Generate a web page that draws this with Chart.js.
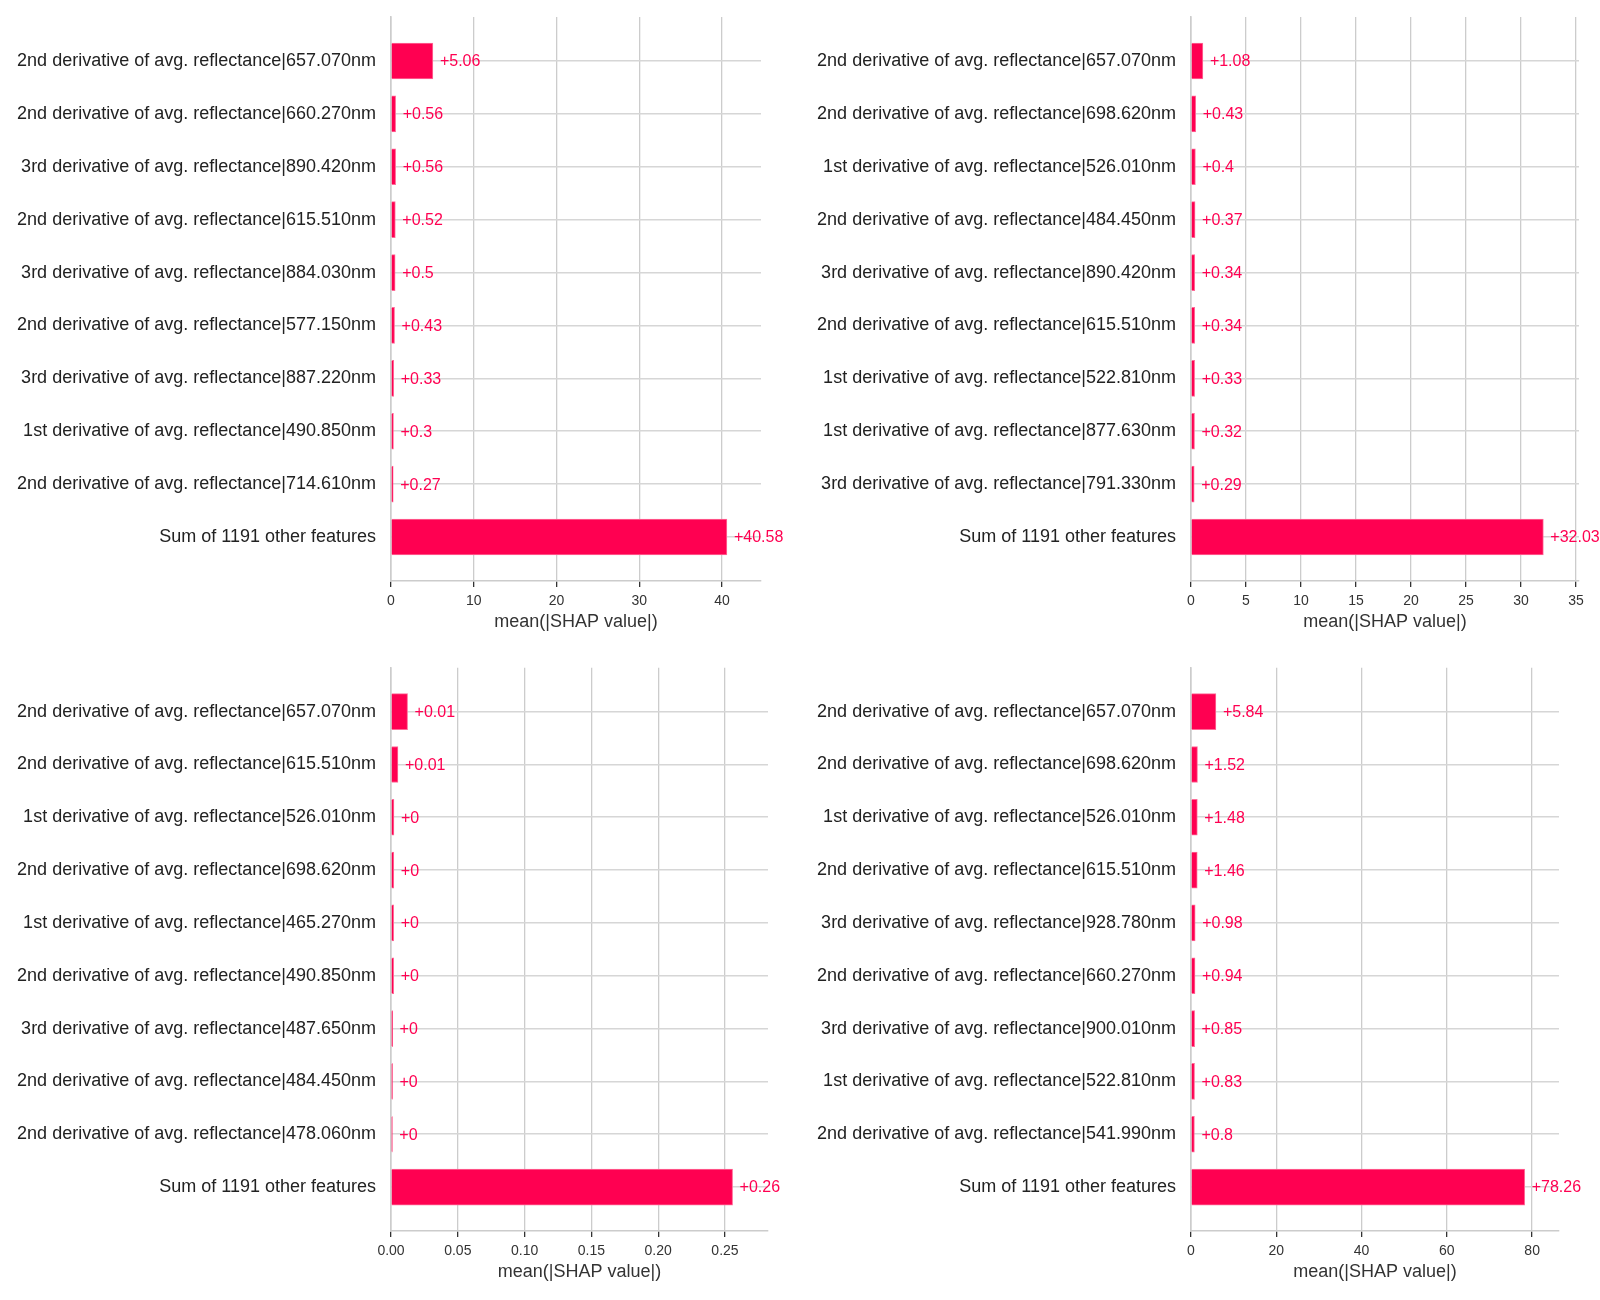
<!DOCTYPE html>
<html lang="en">
<head>
<meta charset="UTF-8">
<title>mean(|SHAP value|) bar charts</title>
<script src="https://cdn.jsdelivr.net/npm/chart.js"></script>
<style>
  body { margin: 0; background: #ffffff; }
  .panel { position: absolute; }
</style>
</head>
<body>
<div class="panel" style="left:0;top:0"><canvas id="shapA" width="800" height="650"></canvas></div>
<div class="panel" style="left:800px;top:0"><canvas id="shapB" width="800" height="650"></canvas></div>
<div class="panel" style="left:0;top:650px"><canvas id="shapC" width="800" height="650"></canvas></div>
<div class="panel" style="left:800px;top:650px"><canvas id="shapD" width="800" height="650"></canvas></div>

<script>
// top-left
const labelsA = [
  '2nd derivative of avg. reflectance|657.070nm',
  '2nd derivative of avg. reflectance|660.270nm',
  '3rd derivative of avg. reflectance|890.420nm',
  '2nd derivative of avg. reflectance|615.510nm',
  '3rd derivative of avg. reflectance|884.030nm',
  '2nd derivative of avg. reflectance|577.150nm',
  '3rd derivative of avg. reflectance|887.220nm',
  '1st derivative of avg. reflectance|490.850nm',
  '2nd derivative of avg. reflectance|714.610nm',
  'Sum of 1191 other features'
];
const valuesA = [5.06, 0.56, 0.56, 0.52, 0.5, 0.43, 0.33, 0.3, 0.27, 40.58];
const xTicksA = [0, 10, 20, 30, 40];
const xTickLabelsA = ['0', '10', '20', '30', '40'];

// top-right
const labelsB = [
  '2nd derivative of avg. reflectance|657.070nm',
  '2nd derivative of avg. reflectance|698.620nm',
  '1st derivative of avg. reflectance|526.010nm',
  '2nd derivative of avg. reflectance|484.450nm',
  '3rd derivative of avg. reflectance|890.420nm',
  '2nd derivative of avg. reflectance|615.510nm',
  '1st derivative of avg. reflectance|522.810nm',
  '1st derivative of avg. reflectance|877.630nm',
  '3rd derivative of avg. reflectance|791.330nm',
  'Sum of 1191 other features'
];
const valuesB = [1.08, 0.43, 0.4, 0.37, 0.34, 0.34, 0.33, 0.32, 0.29, 32.03];
const xTicksB = [0, 5, 10, 15, 20, 25, 30, 35];
const xTickLabelsB = ['0', '5', '10', '15', '20', '25', '30', '35'];

// bottom-left
const labelsC = [
  '2nd derivative of avg. reflectance|657.070nm',
  '2nd derivative of avg. reflectance|615.510nm',
  '1st derivative of avg. reflectance|526.010nm',
  '2nd derivative of avg. reflectance|698.620nm',
  '1st derivative of avg. reflectance|465.270nm',
  '2nd derivative of avg. reflectance|490.850nm',
  '3rd derivative of avg. reflectance|487.650nm',
  '2nd derivative of avg. reflectance|484.450nm',
  '2nd derivative of avg. reflectance|478.060nm',
  'Sum of 1191 other features'
];
const valuesC = [0.0124, 0.0052, 0.0022, 0.0021, 0.002, 0.002, 0.0012, 0.0011, 0.001, 0.2557];
const xTicksC = [0, 0.05, 0.1, 0.15, 0.2, 0.25];
const xTickLabelsC = ['0.00', '0.05', '0.10', '0.15', '0.20', '0.25'];

// bottom-right
const labelsD = [
  '2nd derivative of avg. reflectance|657.070nm',
  '2nd derivative of avg. reflectance|698.620nm',
  '1st derivative of avg. reflectance|526.010nm',
  '2nd derivative of avg. reflectance|615.510nm',
  '3rd derivative of avg. reflectance|928.780nm',
  '2nd derivative of avg. reflectance|660.270nm',
  '3rd derivative of avg. reflectance|900.010nm',
  '1st derivative of avg. reflectance|522.810nm',
  '2nd derivative of avg. reflectance|541.990nm',
  'Sum of 1191 other features'
];
const valuesD = [5.84, 1.52, 1.48, 1.46, 0.98, 0.94, 0.85, 0.83, 0.8, 78.26];
const xTicksD = [0, 20, 40, 60, 80];
const xTickLabelsD = ['0', '20', '40', '60', '80'];

const FONT = "'Liberation Sans', Arial, sans-serif";
const SHAP_RED = '#ff0051';
Chart.defaults.font.family = FONT;

// "+5.06" style text right of each bar
const valueLabels = {
  id: 'valueLabels',
  afterDatasetsDraw(chart) {
    const ctx = chart.ctx;
    const ds = chart.data.datasets[0];
    ctx.save();
    ctx.font = '16px ' + FONT;
    ctx.fillStyle = SHAP_RED;
    ctx.textAlign = 'left';
    ctx.textBaseline = 'middle';
    chart.getDatasetMeta(0).data.forEach((bar, i) => {
      ctx.fillText('+' + Number(ds.data[i].x.toFixed(2)), bar.x + 7, bar.y + 1);
    });
    ctx.restore();
  }
};

function shapChart(id, labels, values, tickVals, tickLabels, xMax, padTop, padRight) {
  return new Chart(document.getElementById(id), {
    type: 'bar',
    data: {
      datasets: [{
        data: values.map((v, i) => ({ x: v, y: i })),
        backgroundColor: SHAP_RED,
        borderColor: '#ff6b98',
        borderWidth: 1,
        barThickness: 36
      }]
    },
    options: {
      indexAxis: 'y',
      responsive: false,
      animation: false,
      layout: { padding: { top: padTop, right: padRight, left: 0, bottom: 0 } },
      plugins: { legend: { display: false }, tooltip: { enabled: false } },
      scales: {
        x: {
          type: 'linear', min: 0, max: xMax, bounds: 'data',
          afterBuildTicks: s => { s.ticks = tickVals.map(v => ({ value: v })); },
          afterFit: s => { s.height = 69; },
          grid: { color: '#cccccc', lineWidth: 1.3, tickColor: '#333333', tickLength: 6, tickWidth: 1.3 },
          border: { color: '#cccccc', width: 1.6 },
          ticks: {
            callback: (v, i) => tickLabels[i],
            color: '#333333', font: { size: 14 }, padding: 6, maxRotation: 0, autoSkip: false
          },
          title: {
            display: true, text: 'mean(|SHAP value|)', color: '#333333',
            font: { size: 18 }, padding: { top: 2, bottom: 17 }
          }
        },
        y: {
          type: 'linear', reverse: true, min: -0.832, max: 9.832, bounds: 'data',
          offset: false,
          afterBuildTicks: s => { s.ticks = labels.map((_, i) => ({ value: i })); },
          afterFit: s => { s.width = 391; s.paddingTop = 0; s.paddingBottom = 0; },
          grid: { color: '#d6d6d6', lineWidth: 1.6, drawTicks: false, offset: false },
          border: { color: '#cccccc', width: 1.6 },
          ticks: { callback: v => labels[v], color: '#222222', font: { size: 18 }, padding: 15, autoSkip: false }
        }
      }
    },
    plugins: [valueLabels]
  });
}

shapChart('shapA', labelsA, valuesA, xTicksA, xTickLabelsA, 44.7, 17, 39);
shapChart('shapB', labelsB, valuesB, xTicksB, xTickLabelsB, 35.27, 17, 21);
shapChart('shapC', labelsC, valuesC, xTicksC, xTickLabelsC, 0.2822, 17.7, 32);
shapChart('shapD', labelsD, valuesD, xTicksD, xTickLabelsD, 86.3, 17.7, 41);
</script>
</body>
</html>
